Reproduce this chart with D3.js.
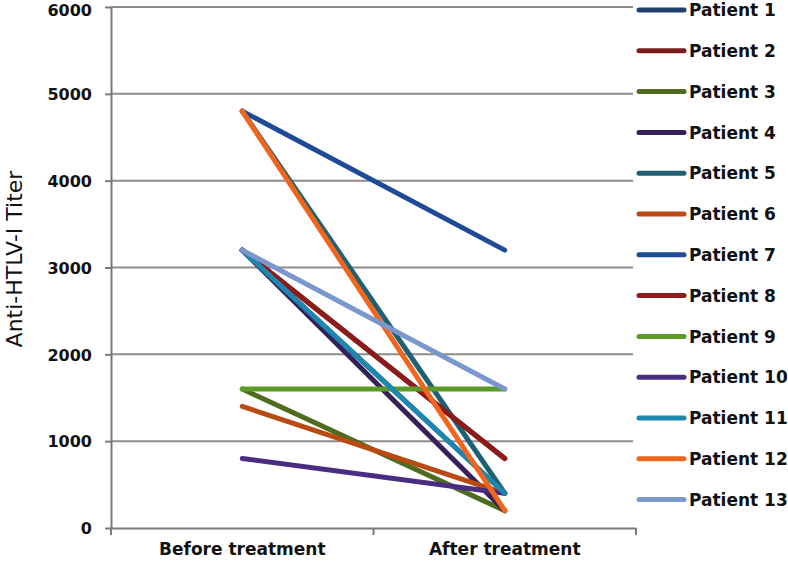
<!DOCTYPE html>
<html>
<head>
<meta charset="utf-8">
<script src="https://cdn.jsdelivr.net/npm/d3@7"></script>
<style>
  body { margin: 0; background: #fff; }
  svg { display: block; }
  svg text { font-family: "DejaVu Sans", sans-serif; }
  .grid line { stroke: #8c8c8c; stroke-width: 2; }
  .axis path, .axis line { stroke: #7a7a7a; stroke-width: 2; }
  .axis text { font-size: 16px; font-weight: bold; fill: #111; }
  .xaxis text { font-size: 17px; }
  .legend text { font-size: 17px; font-weight: bold; fill: #111; }
</style>
</head>
<body>
<svg width="788" height="563"></svg>
<script>
// data
const categories = ['Before treatment', 'After treatment'];
const patients = ['Patient 1', 'Patient 2', 'Patient 3', 'Patient 4', 'Patient 5', 'Patient 6', 'Patient 7',
                  'Patient 8', 'Patient 9', 'Patient 10', 'Patient 11', 'Patient 12', 'Patient 13'];
const before = [3200, 3200, 1600, 3200, 4800, 1400, 4800, 3200, 1600, 800, 3200, 4800, 3200];
const after  = [400, 800, 200, 200, 400, 400, 3200, 800, 1600, 400, 400, 200, 1600];
const colors = ['#22406e', '#7a1d1d', '#4f6b1f', '#35215a', '#1f6072', '#b84a12', '#1f4a96',
                '#8c1b1b', '#5c9a27', '#4a2c80', '#1d87b0', '#f2651c', '#7b97cb'];
const yTicks = [0, 1000, 2000, 3000, 4000, 5000, 6000];

const svg = d3.select('svg');
const mLeft = 111, mRight = 636, mTop = 7, mBottom = 528;

const x = d3.scaleBand().domain(categories).range([mLeft, mRight]);
const y = d3.scaleLinear().domain([0, 6000]).range([mBottom, mTop]);

// gridlines
svg.append('g').attr('class', 'grid')
  .selectAll('line').data(yTicks.slice(1))
  .enter().append('line')
    .attr('x1', mLeft).attr('x2', mRight - 3)
    .attr('y1', d => y(d)).attr('y2', d => y(d));

// axes
svg.append('g').attr('class', 'axis')
  .attr('transform', `translate(${mLeft},0)`)
  .call(d3.axisLeft(y).tickValues(yTicks).tickFormat(d3.format('d')).tickSize(6).tickPadding(13).tickSizeOuter(0))
  .call(g => g.selectAll('text').attr('dy', d => d === 6000 ? '0.5em' : '0.36em'));

const xAxis = svg.append('g').attr('class', 'axis xaxis')
  .attr('transform', `translate(0,${mBottom})`)
  .call(d3.axisBottom(x).tickSize(0).tickPadding(15).tickSizeOuter(0));
// tick marks on band edges
xAxis.selectAll('.edge').data([mLeft, x(categories[1]), mRight])
  .enter().append('line').attr('class', 'edge')
    .attr('x1', d => d).attr('x2', d => d)
    .attr('y1', 0).attr('y2', 7);

// y title
svg.append('text')
  .attr('transform', `translate(22,259) rotate(-90)`)
  .attr('text-anchor', 'middle')
  .style('font-size', '22px')
  .attr('fill', '#111')
  .text('Anti-HTLV-I Titer');

// lines
const line = d3.line().x(d => x(d.cat) + x.bandwidth() / 2).y(d => y(d.v));
const series = patients.map((p, i) => ({
  name: p, color: colors[i],
  values: [{cat: categories[0], v: before[i]}, {cat: categories[1], v: after[i]}]
}));

svg.append('g').selectAll('path').data(series)
  .enter().append('path')
    .attr('d', d => line(d.values))
    .attr('fill', 'none')
    .attr('stroke', d => d.color)
    .attr('stroke-width', 5)
    .attr('stroke-linecap', 'round');

// legend
const lg = svg.append('g').attr('class', 'legend');
const row = lg.selectAll('g').data(series).enter().append('g')
  .attr('transform', (d, i) => `translate(637,${10 + i * 40.8})`);
row.append('line')
  .attr('x1', 2).attr('x2', 47)
  .attr('stroke', d => d.color).attr('stroke-width', 5).attr('stroke-linecap', 'round');
row.append('text')
  .attr('x', 52).attr('dy', '0.36em')
  .text(d => d.name);
</script>
</body>
</html>
